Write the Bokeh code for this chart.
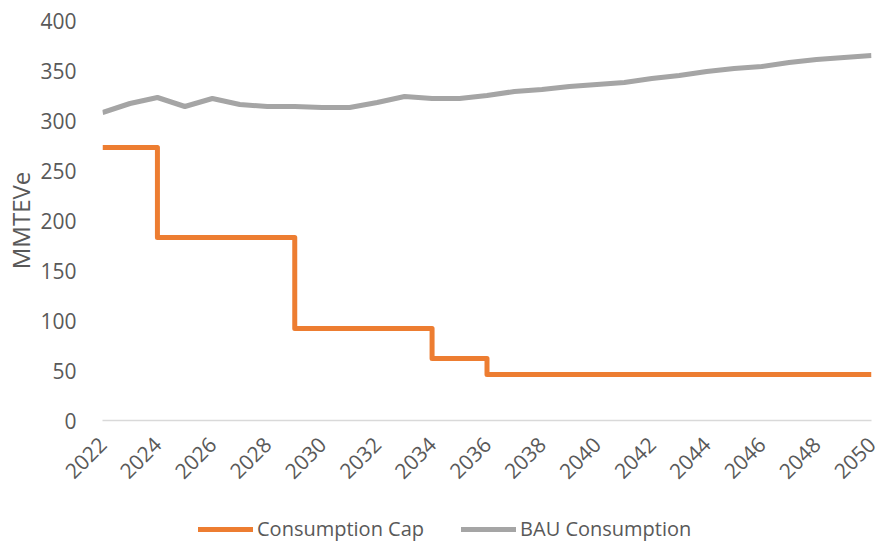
from bokeh.plotting import figure
from bokeh.models import Range1d, FixedTicker, Legend, LegendItem
from bokeh.layouts import column
from bokeh.embed import file_html
from bokeh.resources import INLINE
import math

years = [2022, 2023, 2024, 2025, 2026, 2027, 2028, 2029, 2030, 2031,
         2032, 2033, 2034, 2035, 2036, 2037, 2038, 2039, 2040, 2041,
         2042, 2043, 2044, 2045, 2046, 2047, 2048, 2049, 2050]
consumption_cap = [273, 273, 183, 183, 183, 183, 183, 92, 92, 92,
                   92, 92, 62, 62, 46, 46, 46, 46, 46, 46,
                   46, 46, 46, 46, 46, 46, 46, 46, 46]
bau_consumption = [308, 317, 323, 314, 322, 316, 314, 314, 313, 313,
                   318, 324, 322, 322, 325, 329, 331, 334, 336, 338,
                   342, 345, 349, 352, 354, 358, 361, 363, 365]
x_ticks = [2022, 2024, 2026, 2028, 2030, 2032, 2034, 2036, 2038, 2040,
           2042, 2044, 2046, 2048, 2050]
y_ticks = [0, 50, 100, 150, 200, 250, 300, 350, 400]
series_names = ["Consumption Cap", "BAU Consumption"]

FONT = "Open Sans"
TXT = "#595959"
ORANGE = "#ED7D31"
GRAY = "#A5A5A5"

p = figure(width=884, height=508, output_backend="svg", toolbar_location=None,
           x_range=Range1d(2022, 2050), y_range=Range1d(0, 400),
           min_border_left=102, min_border_right=13, min_border_top=20,
           min_border_bottom=88)
p.outline_line_color = None
p.xgrid.visible = False
p.ygrid.visible = False
p.background_fill_color = "white"
p.border_fill_color = "white"

p.step(years, consumption_cap, mode="after", line_color=ORANGE,
       line_width=5, line_join="round")
p.line(years, bau_consumption, line_color=GRAY, line_width=5,
       line_join="round")

# x axis
xa = p.xaxis[0]
xa.ticker = FixedTicker(ticks=x_ticks)
xa.major_label_orientation = math.pi / 4
xa.major_tick_line_color = None
xa.minor_tick_line_color = None
xa.axis_line_color = "#D9D9D9"
xa.axis_line_width = 1.5
xa.major_label_text_font = FONT
xa.major_label_text_font_size = "21px"
xa.major_label_text_color = TXT
xa.major_label_standoff = 14

# y axis
ya = p.yaxis[0]
ya.ticker = FixedTicker(ticks=y_ticks)
ya.major_tick_line_color = None
ya.minor_tick_line_color = None
ya.axis_line_color = None
ya.major_label_text_font = FONT
ya.major_label_text_font_size = "21px"
ya.major_label_text_color = TXT
ya.major_label_standoff = 20
ya.axis_label = "MMTEVe"
ya.axis_label_text_font = FONT
ya.axis_label_text_font_size = "24px"
ya.axis_label_text_font_style = "normal"
ya.axis_label_text_color = TXT
ya.axis_label_standoff = 0

# legend strip below the chart (series drawn out of view, only the legend shows)
lg = figure(width=884, height=34, output_backend="svg", toolbar_location=None,
            x_range=Range1d(0, 1), y_range=Range1d(0, 1),
            x_axis_type=None, y_axis_type=None,
            min_border_left=0, min_border_right=0, min_border_top=0,
            min_border_bottom=0)
lg.outline_line_color = None
lg.xgrid.visible = False
lg.ygrid.visible = False
k1 = lg.step(years, consumption_cap, mode="after", line_color=ORANGE,
             line_width=5, line_cap="round")
k2 = lg.line(years, bau_consumption, line_color=GRAY, line_width=5,
             line_cap="round")
legend = Legend(items=[LegendItem(label=series_names[0], renderers=[k1]),
                       LegendItem(label=series_names[1], renderers=[k2])],
                orientation="horizontal", location=(96, 0),
                glyph_width=55, glyph_height=20, label_standoff=4, spacing=37,
                padding=0, margin=0, border_line_alpha=0, background_fill_alpha=0,
                label_text_font=FONT, label_text_font_size="20px",
                label_text_color=TXT)
lg.add_layout(legend, "center")

layout = column(p, lg, spacing=0)
open("out.html", "w").write(file_html(layout, INLINE))
